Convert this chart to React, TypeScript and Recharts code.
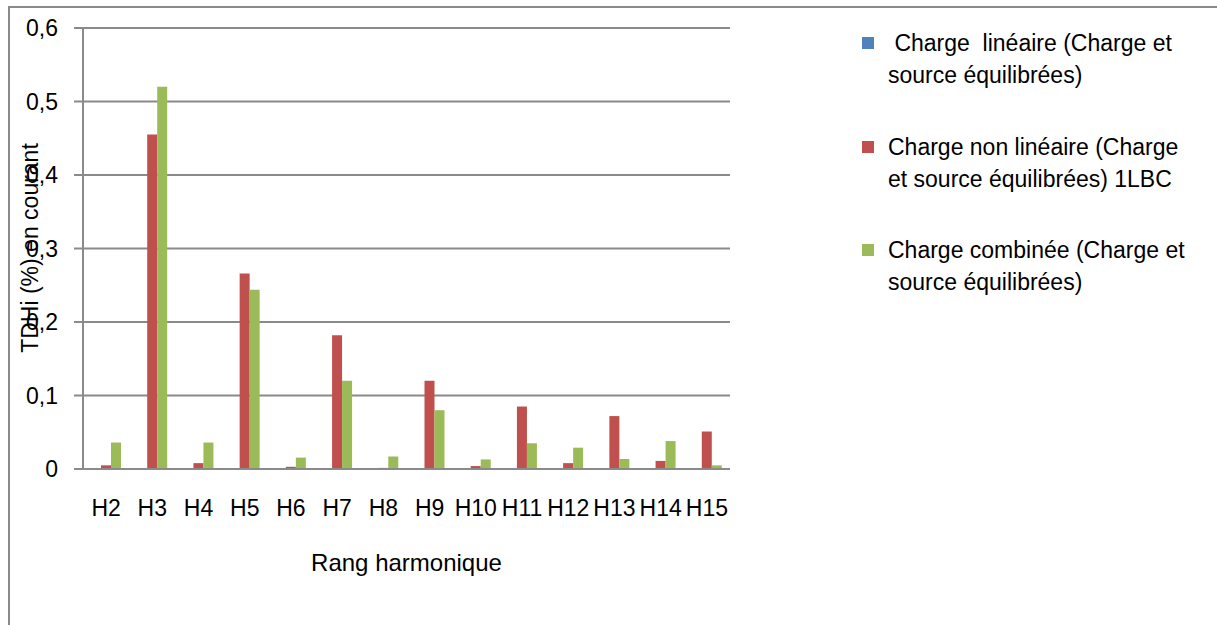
import React from 'react';
import { BarChart, Bar, XAxis, YAxis, CartesianGrid, Legend } from 'recharts';

const categories = ['H2', 'H3', 'H4', 'H5', 'H6', 'H7', 'H8', 'H9', 'H10', 'H11', 'H12', 'H13', 'H14', 'H15'];
const lineaire = [0, 0, 0, 0, 0, 0, 0, 0, 0, 0, 0, 0, 0, 0];
const nonLineaire = [0.005, 0.455, 0.008, 0.266, 0.003, 0.182, 0.0015, 0.12, 0.004, 0.085, 0.008, 0.072, 0.011, 0.051];
const combinee = [0.036, 0.52, 0.036, 0.244, 0.0155, 0.12, 0.017, 0.08, 0.013, 0.035, 0.029, 0.0136, 0.038, 0.005];
const yTicks = [0, 0.1, 0.2, 0.3, 0.4, 0.5, 0.6];

const seriesNames = [
  ' Charge  linéaire (Charge et source équilibrées)',
  'Charge non linéaire (Charge et source équilibrées) 1LBC',
  'Charge combinée (Charge et source équilibrées)',
];
const legendLines = [
  [' Charge  linéaire (Charge et', 'source équilibrées)'],
  ['Charge non linéaire (Charge', 'et source équilibrées) 1LBC'],
  ['Charge combinée (Charge et', 'source équilibrées)'],
];
const colors = ['#4F81BD', '#C0504D', '#9BBB59'];

const data = categories.map((c, i) => ({
  cat: c,
  lin: lineaire[i],
  nonlin: nonLineaire[i],
  comb: combinee[i],
}));

const FONT = "'Liberation Sans', Arial, sans-serif";
const GRAY = '#8a8a8a';

const renderLegend = (props: any) => {
  const payload = [...(props.payload || [])].sort(
    (a: any, b: any) => seriesNames.indexOf(a.value) - seriesNames.indexOf(b.value)
  );
  return (
    <div style={{ fontFamily: FONT, fontSize: 23, color: '#000' }}>
      {payload.map((entry: any, i: number) => {
        const idx = seriesNames.indexOf(entry.value);
        return (
          <div key={i} style={{ position: 'relative', height: 103.5 }}>
            <span
              style={{
                position: 'absolute',
                left: 0,
                top: 10,
                width: 12,
                height: 12,
                background: entry.color,
              }}
            />
            <div style={{ position: 'absolute', left: 26, top: 0, lineHeight: '32px', whiteSpace: 'pre' }}>
              {(legendLines[idx] || []).map((l, j) => (
                <div key={j}>{l}</div>
              ))}
            </div>
          </div>
        );
      })}
    </div>
  );
};

const YLabel = () => (
  <text
    x={30}
    y={248}
    transform="rotate(-90 30 248)"
    textAnchor="middle"
    dominantBaseline="central"
    fontFamily={FONT}
    fontSize={23}
    fill="#000"
  >
    TDHi (%) en courant
  </text>
);

const XLabel = (props: any) => {
  const vb = props.viewBox || {};
  const cx = (vb.x || 83) + (vb.width || 647) / 2;
  return (
    <text x={cx} y={562} textAnchor="middle" dominantBaseline="central" fontFamily={FONT} fontSize={24} fill="#000">
      Rang harmonique
    </text>
  );
};

export default function App() {
  return (
    <div style={{ position: 'absolute', left: 0, top: 0, width: 1217, height: 625, background: '#fff', overflow: 'hidden' }}>
      <div
        style={{
          position: 'absolute',
          left: 8,
          top: 6,
          width: 1300,
          height: 700,
          borderLeft: `2px solid ${GRAY}`,
          borderTop: `2px solid ${GRAY}`,
        }}
      />
      <div style={{ position: 'absolute', left: 0, top: 0 }}>
        <BarChart
          width={1217}
          height={625}
          data={data}
          margin={{ top: 28, right: 487, bottom: 0, left: 0 }}
          barGap={0}
          barSize={10}
        >
          <CartesianGrid vertical={false} stroke={GRAY} strokeWidth={2} />
          <XAxis
            dataKey="cat"
            height={156}
            axisLine={{ stroke: GRAY, strokeWidth: 2 }}
            tickLine={false}
            tickSize={0}
            tickMargin={31}
            interval={0}
            tick={{ fontFamily: FONT, fontSize: 23, fill: '#000' }}
            label={{ content: XLabel }}
          />
          <YAxis
            width={83}
            domain={[0, 0.6]}
            ticks={yTicks}
            interval={0}
            axisLine={{ stroke: GRAY, strokeWidth: 2 }}
            tickLine={{ stroke: GRAY, strokeWidth: 2 }}
            tickSize={9}
            tickMargin={16}
            tickFormatter={(v: number) => String(v).replace('.', ',')}
            tick={{ fontFamily: FONT, fontSize: 23, fill: '#000' }}
            label={{ content: YLabel }}
          />
          <Legend
            layout="vertical"
            verticalAlign="middle"
            align="center"
            content={renderLegend}
            wrapperStyle={{ position: 'absolute', left: 862, top: 27, width: 350, right: 'auto', bottom: 'auto' }}
          />
          <Bar dataKey="lin" name={seriesNames[0]} fill={colors[0]} isAnimationActive={false} />
          <Bar dataKey="nonlin" name={seriesNames[1]} fill={colors[1]} isAnimationActive={false} />
          <Bar dataKey="comb" name={seriesNames[2]} fill={colors[2]} isAnimationActive={false} />
        </BarChart>
      </div>
    </div>
  );
}
